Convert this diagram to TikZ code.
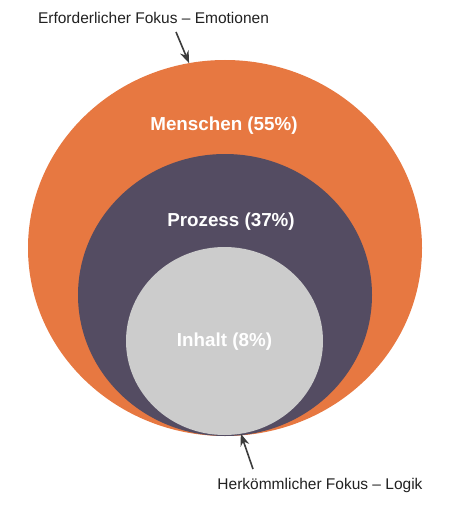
\documentclass[tikz,border=0pt]{standalone}
\usepackage{fontspec}
\setmainfont{Liberation Sans}
\usepackage{tikz}
\usetikzlibrary{positioning,arrows.meta,shapes.geometric}

\definecolor{peopleorange}{RGB}{231,120,65}
\definecolor{processpurple}{RGB}{84,76,98}
\definecolor{contentgray}{RGB}{204,204,204}
\definecolor{labelgray}{RGB}{33,33,33}
\definecolor{arrowgray}{RGB}{60,60,60}

\begin{document}
\begin{tikzpicture}[
  x=1pt, y=-1pt,
  layer/.style={ellipse, draw=none, inner sep=0pt, outer sep=0pt},
  share/.style={font=\fontsize{18.8}{22}\selectfont\bfseries, text=white},
  focus/.style={font=\fontsize{15.5}{18}\selectfont, text=labelgray, inner sep=0pt},
  arrow/.style={-{Stealth[length=4.3mm, width=3.2mm]}, line width=1.6pt, draw=arrowgray}
]
\useasboundingbox (0,0) rectangle (451,508);
\node[layer, fill=peopleorange, minimum width=394pt, minimum height=376pt] (outer) at (225,248) {};
\node[layer, fill=processpurple, minimum width=294pt, minimum height=282pt] (middle) at (225,295) {};
\node[layer, fill=contentgray, minimum width=197pt, minimum height=188pt] (inner) at (224.5,341) {};
\node[share] (people) at (224,126) {Menschen (55\%)};
\node[share] (process) at (231,222) {Prozess (37\%)};
\node[share] (content) at (224.5,342) {Inhalt (8\%)};
\node[focus] (emotion) at (153.5,18) {Erforderlicher Fokus -- Emotionen};
\node[focus] (logic) at (320,485) {Herkömmlicher Fokus -- Logik};
\coordinate (emotionTail) at (176,32);
\coordinate (logicTail) at (253,469);
\draw[arrow] (emotionTail) -- (outer.101);
\draw[arrow] (logicTail) -- (inner.-80);
\end{tikzpicture}
\end{document}
